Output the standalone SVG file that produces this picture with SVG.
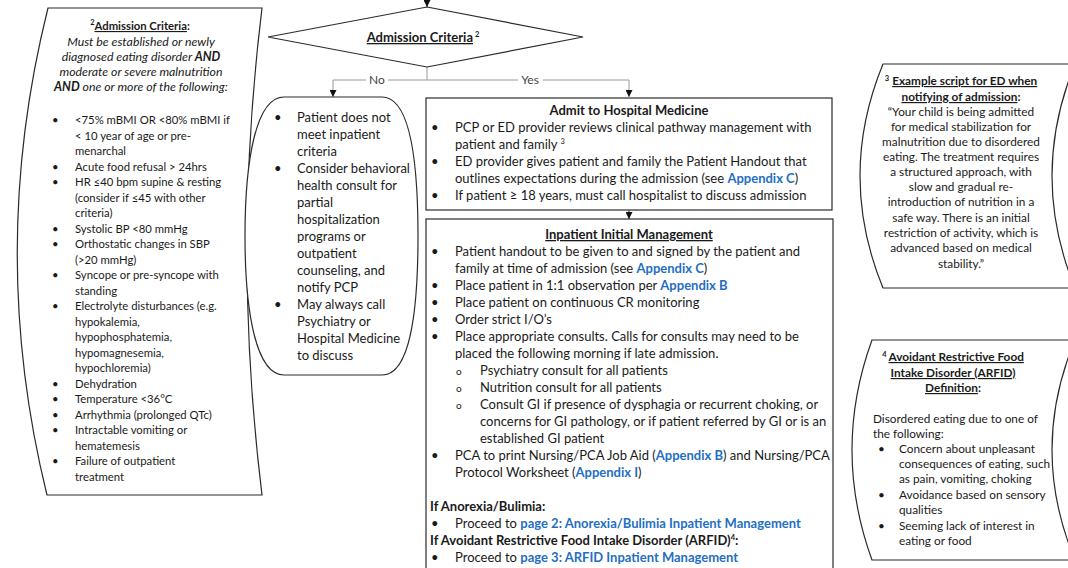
<svg xmlns="http://www.w3.org/2000/svg" width="1068" height="568" viewBox="0 0 1068 568">
  <defs>
    <marker id="arrow" viewBox="0 0 10 10" refX="10" refY="5" markerWidth="7" markerHeight="7" markerUnits="userSpaceOnUse" orient="auto">
      <path d="M0,0 L10,5 L0,10 Z" fill="#111"/>
    </marker>
    <style>
      .shape { fill: #fff; stroke: #2b2b2b; stroke-width: 1.2; }
      .conn { fill: none; stroke: #9a9a9a; stroke-width: 1; }
      .connd { fill: none; stroke: #222; stroke-width: 1; }
      text { font-family: Lato, "Liberation Sans", sans-serif; fill: #1a1a1a; }
      .s { font-size: 11.3px; }
      .r { font-size: 11.8px; }
      .m { font-size: 13px; }
      .b { font-weight: bold; }
      .i { font-style: italic; font-size: 12.3px; }
      .u { text-decoration: underline; }
      .lnk { fill: #1f6fc4; font-weight: bold; }
      .c { text-anchor: middle; }
      .sup { font-size: 7.5px; }
      .lbl { font-size: 12px; fill: #444; }
    </style>
  </defs>

  <rect width="1068" height="568" fill="#fff"/>

  <!-- connectors -->
  <g id="connectors">
    <line class="connd" x1="427" y1="0" x2="427" y2="7" marker-end="url(#arrow)"/>
    <line class="conn" x1="427" y1="67" x2="427" y2="80"/>
    <polyline class="conn" points="427,80 333,80 333,97" marker-end="url(#arrow)"/>
    <polyline class="conn" points="427,80 629,80 629,97" marker-end="url(#arrow)"/>
    <line class="connd" x1="629" y1="210" x2="629" y2="219" marker-end="url(#arrow)"/>
    <rect x="366" y="73" width="22" height="14" fill="#fff"/>
    <text class="lbl c" x="377" y="84">No</text>
    <rect x="518" y="73" width="25" height="14" fill="#fff"/>
    <text class="lbl c" x="530" y="84">Yes</text>
  </g>

  <!-- admission criteria note (left) -->
  <g id="criteria-note">
    <path class="shape" d="M48,8 L262,8 Q232,251.5 262,495 L47,495 Q-13,251.5 48,8 Z"/>
    <text class="s c b" x="140" y="30"><tspan class="sup" dy="-5">2</tspan><tspan dy="5" class="u">Admission Criteria</tspan>:</text>
    <text class="c i" x="141" y="46">Must be established or newly</text>
    <text class="c i" x="141" y="61">diagnosed eating disorder <tspan class="b">AND</tspan></text>
    <text class="c i" x="141" y="76">moderate or severe malnutrition</text>
    <text class="c i" x="141" y="91"><tspan class="b">AND</tspan> one or more of the following:</text>
    <g class="s">
      <text x="52" y="124">•</text><text x="75" y="124">&lt;75% mBMI OR &lt;80% mBMI if</text>
      <text x="75" y="139.5">&lt; 10 year of age or pre-</text>
      <text x="75" y="155">menarchal</text>
      <text x="52" y="170.5">•</text><text x="75" y="170.5">Acute food refusal &gt; 24hrs</text>
      <text x="52" y="186">•</text><text x="75" y="186">HR ≤40 bpm supine &amp; resting</text>
      <text x="75" y="201.5">(consider if ≤45 with other</text>
      <text x="75" y="217">criteria)</text>
      <text x="52" y="232.5">•</text><text x="75" y="232.5">Systolic BP &lt;80 mmHg</text>
      <text x="52" y="248">•</text><text x="75" y="248">Orthostatic changes in SBP</text>
      <text x="75" y="263.5">(&gt;20 mmHg)</text>
      <text x="52" y="279">•</text><text x="75" y="279">Syncope or pre-syncope with</text>
      <text x="75" y="294.5">standing</text>
      <text x="52" y="310">•</text><text x="75" y="310">Electrolyte disturbances (e.g.</text>
      <text x="75" y="325.5">hypokalemia,</text>
      <text x="75" y="341">hypophosphatemia,</text>
      <text x="75" y="356.5">hypomagnesemia,</text>
      <text x="75" y="372">hypochloremia)</text>
      <text x="52" y="387.5">•</text><text x="75" y="387.5">Dehydration</text>
      <text x="52" y="403">•</text><text x="75" y="403">Temperature &lt;36°C</text>
      <text x="52" y="418.5">•</text><text x="75" y="418.5">Arrhythmia (prolonged QTc)</text>
      <text x="52" y="434">•</text><text x="75" y="434">Intractable vomiting or</text>
      <text x="75" y="449.5">hematemesis</text>
      <text x="52" y="465">•</text><text x="75" y="465">Failure of outpatient</text>
      <text x="75" y="480.5">treatment</text>
    </g>
  </g>

  <!-- decision -->
  <g id="decision">
    <polygon class="shape" points="427,7 583,37 427,67 268,37"/>
    <text class="m c b" x="423" y="42"><tspan class="u">Admission Criteria</tspan><tspan class="sup" dx="2" dy="-5">2</tspan></text>
  </g>

  <!-- not admitted -->
  <g id="not-admitted">
    <path class="shape" d="M284,97 L382,97 C410,97 418,160 418,236 C418,312 410,375 382,375 L284,375 C256,375 245,312 245,236 C245,160 256,97 284,97 Z"/>
    <g class="m">
      <text x="274" y="122">•</text><text x="297" y="122">Patient does not</text>
      <text x="297" y="139">meet inpatient</text>
      <text x="297" y="156">criteria</text>
      <text x="274" y="173">•</text><text x="297" y="173">Consider behavioral</text>
      <text x="297" y="190">health consult for</text>
      <text x="297" y="207">partial</text>
      <text x="297" y="224">hospitalization</text>
      <text x="297" y="241">programs or</text>
      <text x="297" y="258">outpatient</text>
      <text x="297" y="275">counseling, and</text>
      <text x="297" y="292">notify PCP</text>
      <text x="274" y="309">•</text><text x="297" y="309">May always call</text>
      <text x="297" y="326">Psychiatry or</text>
      <text x="297" y="343">Hospital Medicine</text>
      <text x="297" y="360">to discuss</text>
    </g>
  </g>

  <!-- admit -->
  <g id="admit">
    <rect class="shape" x="426" y="98" width="406" height="112"/>
    <text class="m c b" x="629" y="115">Admit to Hospital Medicine</text>
    <g class="m">
      <text x="431" y="132">•</text><text x="455" y="132">PCP or ED provider reviews clinical pathway management with</text>
      <text x="455" y="149">patient and family <tspan class="sup" dy="-5">3</tspan></text>
      <text x="431" y="166">•</text><text x="455" y="166">ED provider gives patient and family the Patient Handout that</text>
      <text x="455" y="183">outlines expectations during the admission (see <tspan class="lnk">Appendix C</tspan>)</text>
      <text x="431" y="200">•</text><text x="455" y="200">If patient ≥ 18 years, must call hospitalist to discuss admission</text>
    </g>
  </g>

  <!-- inpatient initial management -->
  <g id="inpatient">
    <rect class="shape" x="426" y="219" width="407" height="360"/>
    <text class="m c b u" x="629" y="239">Inpatient Initial Management</text>
    <g class="m">
      <text x="431" y="256">•</text><text x="455" y="256">Patient handout to be given to and signed by the patient and</text>
      <text x="455" y="273">family at time of admission (see <tspan class="lnk">Appendix C</tspan>)</text>
      <text x="431" y="290">•</text><text x="455" y="290">Place patient in 1:1 observation per <tspan class="lnk">Appendix B</tspan></text>
      <text x="431" y="307">•</text><text x="455" y="307">Place patient on continuous CR monitoring</text>
      <text x="431" y="324">•</text><text x="455" y="324">Order strict I/O’s</text>
      <text x="431" y="341">•</text><text x="455" y="341">Place appropriate consults. Calls for consults may need to be</text>
      <text x="455" y="358">placed the following morning if late admission.</text>
      <text x="456" y="375" font-size="10">o</text><text x="480" y="375">Psychiatry consult for all patients</text>
      <text x="456" y="392" font-size="10">o</text><text x="480" y="392">Nutrition consult for all patients</text>
      <text x="456" y="409" font-size="10">o</text><text x="480" y="409">Consult GI if presence of dysphagia or recurrent choking, or</text>
      <text x="480" y="426">concerns for GI pathology, or if patient referred by GI or is an</text>
      <text x="480" y="443">established GI patient</text>
      <text x="431" y="460">•</text><text x="455" y="460">PCA to print Nursing/PCA Job Aid (<tspan class="lnk">Appendix B</tspan>) and Nursing/PCA</text>
      <text x="455" y="477">Protocol Worksheet (<tspan class="lnk">Appendix I</tspan>)</text>
      <text class="b" x="430" y="511">If Anorexia/Bulimia:</text>
      <text x="431" y="528">•</text><text x="455" y="528">Proceed to <tspan class="lnk">page 2: Anorexia/Bulimia Inpatient Management</tspan></text>
      <text class="b" x="430" y="545">If Avoidant Restrictive Food Intake Disorder (ARFID)<tspan class="sup" dy="-5">4</tspan><tspan dy="5">:</tspan></text>
      <text x="431" y="562">•</text><text x="455" y="562">Proceed to <tspan class="lnk">page 3: ARFID Inpatient Management</tspan></text>
    </g>
  </g>

  <!-- example script note (right) -->
  <g id="script-note">
    <path class="shape" d="M883,64 L1075,64 Q1029,176 1075,288 L883,288 Q837,176 883,64 Z"/>
    <g class="r c">
      <text class="b" x="961" y="85"><tspan class="sup" dy="-4">3</tspan><tspan dx="3" dy="4" class="u">Example script for ED when</tspan></text>
      <text class="b" x="961" y="101"><tspan class="u">notifying of admission</tspan>:</text>
      <text x="961" y="116">“Your child is being admitted</text>
      <text x="961" y="131">for medical stabilization for</text>
      <text x="961" y="146">malnutrition due to disordered</text>
      <text x="961" y="161">eating. The treatment requires</text>
      <text x="961" y="176">a structured approach, with</text>
      <text x="961" y="191">slow and gradual re-</text>
      <text x="961" y="206">introduction of nutrition in a</text>
      <text x="961" y="222">safe way.  There is an initial</text>
      <text x="961" y="237">restriction of activity, which is</text>
      <text x="961" y="252">advanced based on medical</text>
      <text x="961" y="268">stability.”</text>
    </g>
  </g>

  <!-- ARFID definition note (right) -->
  <g id="arfid-note">
    <path class="shape" d="M872,340 L1075,340 Q1029,450 1075,560 L872,560 Q832,450 872,340 Z"/>
    <g class="r">
      <text class="b c" x="953" y="361"><tspan class="sup" dy="-4">4</tspan><tspan dx="2" dy="4" class="u">Avoidant Restrictive Food</tspan></text>
      <text class="b c u" x="953" y="377">Intake Disorder (ARFID)</text>
      <text class="b c" x="953" y="392"><tspan class="u">Definition</tspan>:</text>
      <text x="873" y="423">Disordered eating due to one of</text>
      <text x="873" y="438">the following:</text>
      <text x="878" y="453">•</text><text x="899" y="453">Concern about unpleasant</text>
      <text x="899" y="468">consequences of eating, such</text>
      <text x="899" y="483">as pain, vomiting, choking</text>
      <text x="878" y="499">•</text><text x="899" y="499">Avoidance based on sensory</text>
      <text x="899" y="514">qualities</text>
      <text x="878" y="530">•</text><text x="899" y="530">Seeming lack of interest in</text>
      <text x="899" y="545">eating or food</text>
    </g>
  </g>
</svg>
